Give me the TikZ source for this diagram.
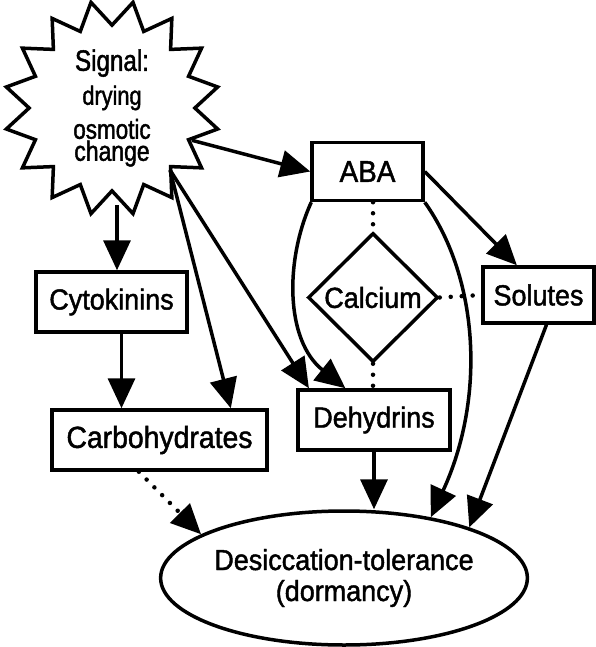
\documentclass[tikz,border=0pt]{standalone}
\usepackage{fontspec}
\setmainfont{Liberation Sans}[FakeStretch=0.93,FakeBold=1.5]
\newfontfamily\starfont{Liberation Sans}[FakeStretch=0.82,FakeBold=1.5]
\usetikzlibrary{shapes.geometric,arrows.meta,calc}
\begin{document}
\begin{tikzpicture}[x=1pt,y=-1pt,
  every node/.style={font=\fontsize{29}{32}\selectfont},
  box/.style={draw,line width=3.5pt,inner sep=0pt,minimum width=#1,minimum height=58pt},
  arr/.style={line width=3.5pt,-{Triangle[length=30pt,width=27pt]}},
  dotline/.style={line width=4.5pt,line cap=round,dash pattern=on 0pt off 11pt},
  tipstyle/.style={-{Triangle[length=30pt,width=27pt]}}
]
\useasboundingbox (0,0) rectangle (596,647);

\node[star,star points=16,star point ratio=1.3,minimum size=198pt,
      shape border rotate=11.25,draw,line width=3.5pt,inner sep=0pt,align=center,
      font=\starfont\fontsize{26.5}{34}\selectfont] (sig) at (112,108)
      {{\fontsize{29.5}{34}\selectfont Signal:}\\drying\\{\fontsize{27.4}{34}\selectfont osmotic}\\[-12pt]{\fontsize{28}{34}\selectfont change}};

\node[box=111pt,font=\fontsize{30}{32}\selectfont] (aba) at (367.5,171.5) {ABA};
\node[box=111pt,minimum height=56pt] (sol) at (538.5,295) {Solutes};
\node[diamond,draw,line width=3.5pt,minimum width=130pt,minimum height=129pt,inner sep=0pt] (cal) at (373,297.5) {Calcium};
\node[box=152pt,minimum height=60pt] (dehyd) at (374,420) {Dehydrins};
\node[box=151pt,minimum height=60pt] (cyto) at (111.5,302) {Cytokinins};
\node[box=215pt,minimum height=60pt,font=\fontsize{30.5}{32}\selectfont] (carb) at (159.5,440) {Carbohydrates};
\node[ellipse,draw,line width=3.5pt,minimum width=352pt,minimum height=134pt,inner sep=0pt,align=center,font=\fontsize{29}{31}\selectfont] (des) at (344,578) {Desiccation-tolerance\\(dormancy)};

\coordinate (s1) at ($(sig.center)+(58,62)$);
\coordinate (s0) at ($(sig.center)+(5,97)$);
\coordinate (c1) at ($(cyto.south)+(10,0)$);

\draw[arr] (sig.-22) -- (aba.west);
\draw[arr] (s0) -- (s0 |- cyto.north);
\draw[arr] (s1) -- (carb.24);
\draw[arr] (s1) -- (dehyd.154);
\draw[arr] (c1) -- (c1 |- carb.north);
\draw[arr] ($(aba.south west)+(1,0)$) .. controls (285,260) and (285,340) .. (dehyd.132);
\draw[arr] (aba.south east) .. controls (480,280) and (485,400) .. (des.35);
\draw[arr] (aba.east) -- (sol.126);
\draw[arr] (sol.-75) -- (des.22);
\draw[arr] (dehyd.south) -- (dehyd.south |- des.north);

\draw[dotline] (cal.north |- aba.south) -- (cal.north);
\draw[dotline] (cal.south) -- (cal.south |- dehyd.north);
\draw[dotline] (cal.east) -- (sol.west);
\draw[dotline,tipstyle] (carb.-123) -- (des.163);
\end{tikzpicture}
\end{document}
